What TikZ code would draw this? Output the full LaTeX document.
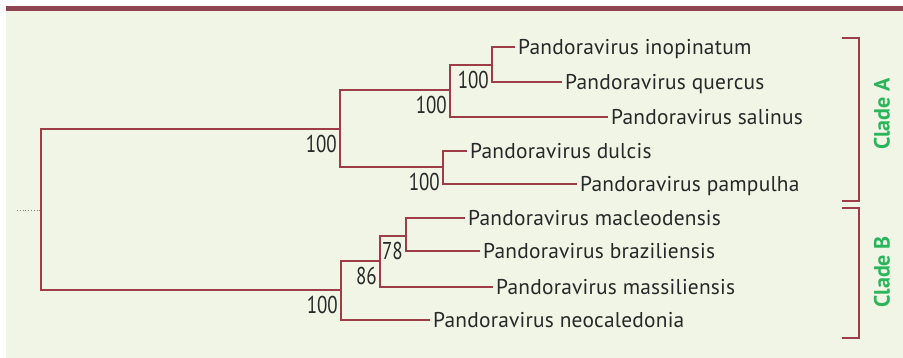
\documentclass[tikz,border=0pt]{standalone}
\usepackage{fontspec}
\setmainfont{PT Sans}
\definecolor{bgc}{RGB}{240,245,230}
\definecolor{barc}{RGB}{142,68,80}
\definecolor{treec}{RGB}{158,60,72}
\definecolor{txtc}{RGB}{40,40,40}
\definecolor{cladec}{RGB}{42,181,90}
\newcommand\leaffont{\fontsize{21.4}{24}\selectfont\addfontfeature{LetterSpace=1}}
\newcommand\bootfont{\fontsize{24.3}{26}\selectfont}
\newcommand\bootnum[1]{\scalebox{0.78}[1]{#1}}
\tikzset{
  branch/.style={draw=treec, line width=1.3pt},
  leaf/.style={anchor=west, inner xsep=3pt, inner ysep=0pt, text height=15pt, text depth=0pt, font=\leaffont, text=txtc},
  boot/.style={anchor=north east, inner sep=0pt, text height=17pt, text depth=0pt, font=\bootfont, text=txtc, xshift=-3pt, yshift=-6pt},
  bracket/.style={draw=treec, line width=1.3pt},
  cladelab/.style={rotate=90, inner sep=0pt, font=\fontsize{22}{24}\selectfont\bfseries, text=cladec},
}
\begin{document}
\begin{tikzpicture}[x=1pt,y=-1pt]
\useasboundingbox (0,0) rectangle (903,358);
\fill[bgc] (6,11) rectangle (903,358);
\fill[barc] (6,6) rectangle (903,11);

% internal nodes
\coordinate (root) at (41,210);
\coordinate (dotend) at (17,210);
\coordinate (A) at (340,129);
\coordinate (A1) at (450,90);
\coordinate (A11) at (492,65);
\coordinate (A2) at (443,167);
\coordinate (B) at (341,290);
\coordinate (B1) at (380,261);
\coordinate (B11) at (406,236);

% leaves
\node[leaf] (inop) at (515,47) {Pandoravirus inopinatum};
\node[leaf] (quer) at (562,82) {Pandoravirus quercus};
\node[leaf] (sali) at (608,117) {Pandoravirus salinus};
\node[leaf] (dulc) at (467,151) {Pandoravirus dulcis};
\node[leaf] (pamp) at (577,184) {Pandoravirus pampulha};
\node[leaf] (macl) at (465,218) {Pandoravirus macleodensis};
\node[leaf] (braz) at (480,251) {Pandoravirus braziliensis};
\node[leaf] (mass) at (493,287) {Pandoravirus massiliensis};
\node[leaf] (neoc) at (430,320) {Pandoravirus neocaledonia};

% branches
\draw[gray, line width=0.8pt, dotted] (dotend) -- (root);
\draw[branch] (root) |- (A);
\draw[branch] (root) |- (B);
\draw[branch] (A) |- (A1);
\draw[branch] (A) |- (A2);
\draw[branch] (A1) |- (A11);
\draw[branch] (A1) |- (sali.west);
\draw[branch] (A11) |- (inop.west);
\draw[branch] (A11) |- (quer.west);
\draw[branch] (A2) |- (dulc.west);
\draw[branch] (A2) |- (pamp.west);
\draw[branch] (B) |- (B1);
\draw[branch] (B) |- (neoc.west);
\draw[branch] (B1) |- (B11);
\draw[branch] (B1) |- (mass.west);
\draw[branch] (B11) |- (macl.west);
\draw[branch] (B11) |- (braz.west);

% bootstrap values
\node[boot] (bA) at (A) {\bootnum{100}};
\node[boot] (bA1) at (A1) {\bootnum{100}};
\node[boot] (bA11) at (A11) {\bootnum{100}};
\node[boot] (bA2) at (A2) {\bootnum{100}};
\node[boot] (bB) at (B) {\bootnum{100}};
\node[boot] (bB1) at (B1) {\bootnum{86}};
\node[boot] (bB11) at (B11) {\bootnum{78}};

% clade brackets
\draw[bracket] (842,38) -- (859,38) -- (859,201) -- (842,201);
\draw[bracket] (842,208) -- (859,208) -- (859,338) -- (842,338);
\node[cladelab] (cA) at (882,114) {Clade A};
\node[cladelab] (cB) at (882,272) {Clade B};
\end{tikzpicture}
\end{document}
